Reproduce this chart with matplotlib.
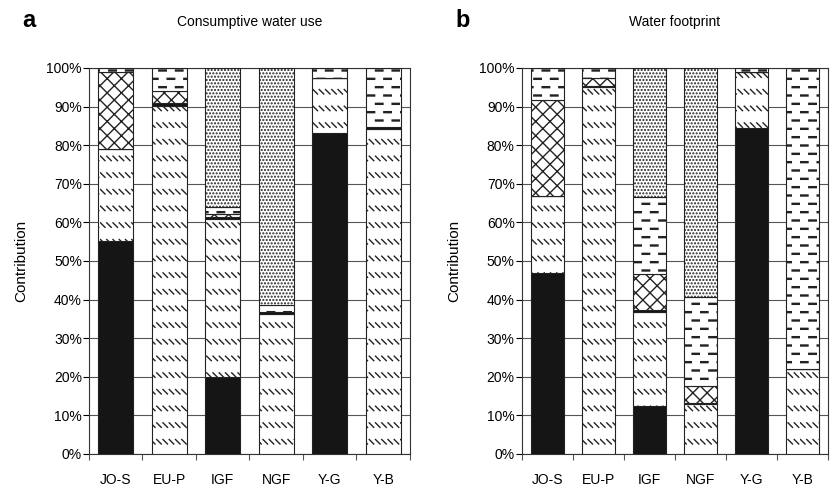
import matplotlib.pyplot as plt
import numpy as np
from matplotlib import hatch as mhatch
from matplotlib.path import Path

plt.rcParams['font.family'] = ['Liberation Sans', 'DejaVu Sans']
plt.rcParams['hatch.linewidth'] = 1.0

cats = ["JO-S", "EU-P", "IGF", "NGF", "Y-G", "Y-B"]

# segments bottom -> top: black, diagonal, thin line, cross, dash, dots
a_black = [55.3, 0, 20.0, 0, 83.2, 0]
a_diag = [23.7, 90.2, 40.8, 36.2, 14.1, 84.2]
a_thin = [0, 0.6, 0.5, 0.6, 0, 0.6]
a_cross = [20.0, 3.2, 1.0, 0, 0, 0]
a_dash = [1.0, 6.0, 1.7, 1.8, 2.7, 15.2]
a_dots = [0, 0, 36.0, 61.4, 0, 0]

b_black = [47.0, 0, 12.5, 0, 84.5, 0]
b_diag = [19.9, 95.0, 24.4, 12.9, 14.4, 21.9]
b_thin = [0, 0.4, 0.4, 0.4, 0, 0]
b_cross = [24.8, 1.9, 9.4, 4.3, 0, 0]
b_dash = [8.3, 2.7, 19.9, 23.0, 1.1, 78.1]
b_dots = [0, 0, 33.4, 59.4, 0, 0]


# custom hatches (one hatch tile = 1 inch), they take over 'o', 'O' and '*'
class DiagDashes(mhatch.HatchPatternBase):
    # rows of short "\" strokes
    def __init__(self, hatch, density):
        self.on = 'o' in hatch
        self.rows, self.cols = 6, 16
        self.num_vertices = self.rows * self.cols * 2 if self.on else 0

    def set_vertices_and_codes(self, vertices, codes):
        v = []
        h = 0.045
        for r in range(self.rows):
            y = r / self.rows + 0.06
            for c in range(self.cols):
                x = c / self.cols + 0.005
                v += [(x, y + h), (x + h, y)]
        vertices[:] = np.array(v)
        codes[0::2] = Path.MOVETO
        codes[1::2] = Path.LINETO


class HorizDashes(mhatch.HatchPatternBase):
    # staggered rows of short horizontal dashes
    def __init__(self, hatch, density):
        self.on = 'O' in hatch
        self.rows, self.cols = 12, 6
        self.num_vertices = self.rows * self.cols * 5 if self.on else 0

    def set_vertices_and_codes(self, vertices, codes):
        v = []
        ln, th = 0.075, 0.01
        for r in range(self.rows):
            y = r / self.rows + 0.04
            off = 0.005 if r % 2 == 0 else 0.088
            for c in range(self.cols):
                x = c / self.cols + off
                v += [(x, y), (x + ln, y), (x + ln, y + th), (x, y + th), (x, y)]
        vertices[:] = np.array(v)
        codes[:] = Path.LINETO
        codes[0::5] = Path.MOVETO
        codes[4::5] = Path.CLOSEPOLY


class Cross(mhatch.HatchPatternBase):
    def __init__(self, hatch, density):
        self.on = '*' in hatch
        self.n = 7
        self.num_vertices = (2 * self.n + 1) * 4 if self.on else 0

    def set_vertices_and_codes(self, vertices, codes):
        v = []
        steps = np.linspace(-1, 1, 2 * self.n + 1)
        for s in steps:
            v += [(s, 0), (s + 1, 1)]
        for s in steps:
            v += [(s, 1), (s + 1, 0)]
        vertices[:] = np.array(v)
        codes[0::2] = Path.MOVETO
        codes[1::2] = Path.LINETO


mhatch._hatch_types[:] = [t for t in mhatch._hatch_types
                          if t not in (mhatch.SmallCircles, mhatch.LargeCircles, mhatch.Stars)]
mhatch._hatch_types += [DiagDashes, HorizDashes, Cross]

styles = [
    dict(color="#151515", hatch=None),
    dict(color="white", hatch="o"),
    dict(color="#151515", hatch=None),
    dict(color="white", hatch="*"),
    dict(color="white", hatch="O"),
    dict(color="white", hatch="....."),
]

fig = plt.figure(figsize=(8.3, 4.88), dpi=100)
ax1 = fig.add_axes([0.107, 0.0697, 0.387, 0.791])
ax2 = fig.add_axes([0.6285, 0.0697, 0.369, 0.791])


def draw(ax, segs, title):
    x = np.arange(len(cats))
    bottom = np.zeros(len(cats))
    for vals, st in zip(segs, styles):
        vals = np.array(vals)
        ax.bar(x, vals, 0.65, bottom=bottom, color=st["color"], hatch=st["hatch"],
               edgecolor="#222222", linewidth=0.8, zorder=3)
        bottom += vals
    ax.set_xlim(-0.5, 5.5)
    ax.set_ylim(0, 100)
    ax.set_yticks(np.arange(0, 101, 10))
    ax.set_yticklabels([f"{v}%" for v in range(0, 101, 10)], fontsize=10)
    ax.set_xticks(np.arange(-0.5, 6, 1))
    ax.set_xticklabels([])
    ax.set_xticks(x, minor=True)
    ax.set_xticklabels(cats, minor=True, fontsize=10)
    ax.tick_params(axis="x", which="minor", length=0, pad=14)
    ax.tick_params(axis="x", which="major", length=4, color="#555555")
    ax.tick_params(axis="y", length=4, pad=1)
    ax.yaxis.grid(True, color="#555555", linewidth=0.8, zorder=0)
    for s in ax.spines.values():
        s.set_color("#333333")
        s.set_linewidth(0.8)
    ax.set_ylabel("Contribution", fontsize=11, labelpad=13)
    ax.set_title(title, fontsize=10, pad=30)


draw(ax1, [a_black, a_diag, a_thin, a_cross, a_dash, a_dots], "Consumptive water use")
draw(ax2, [b_black, b_diag, b_thin, b_cross, b_dash, b_dots], "Water footprint")

fig.text(0.027, 0.945, "a", fontsize=17, fontweight="bold")
fig.text(0.549, 0.945, "b", fontsize=17, fontweight="bold")

fig.savefig("out.png", dpi=100)
